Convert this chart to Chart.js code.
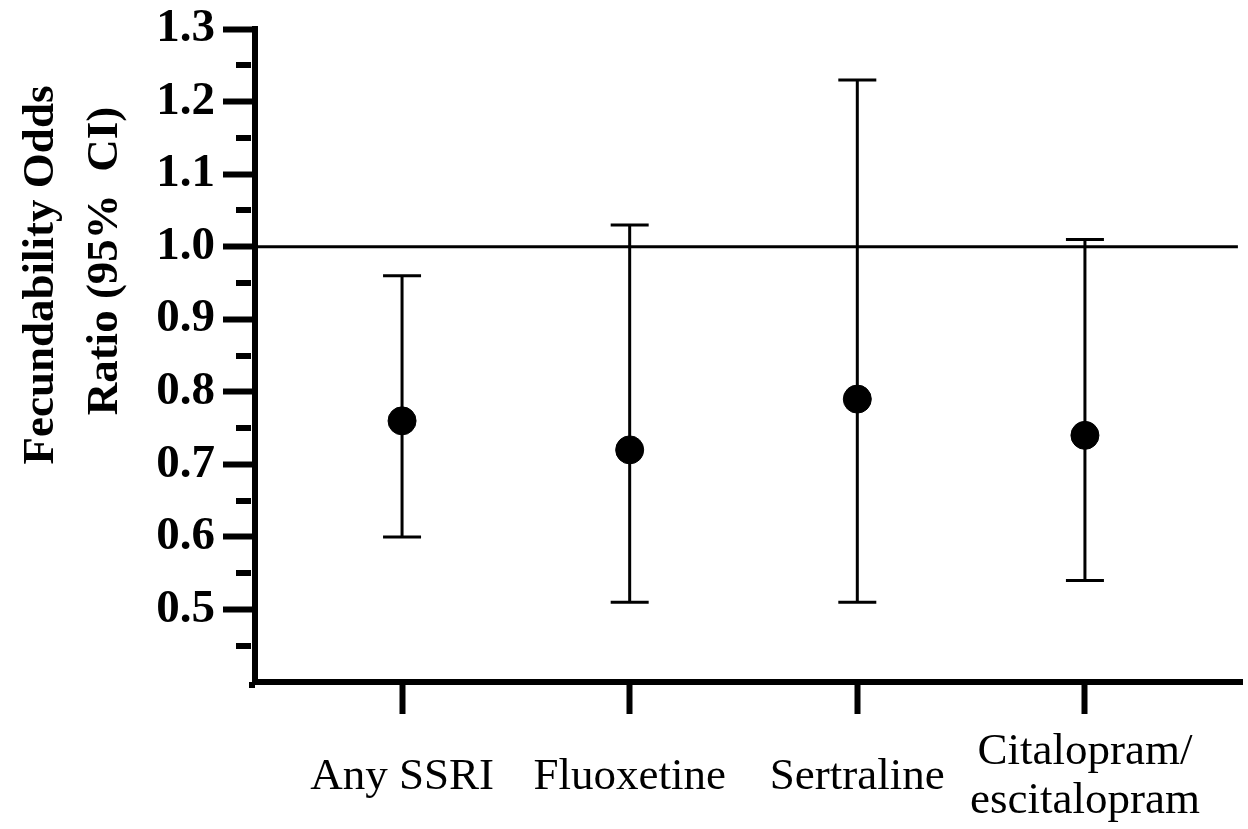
<!DOCTYPE html>
<html>
<head>
<meta charset="utf-8">
<script src="https://cdn.jsdelivr.net/npm/chart.js@4/dist/chart.umd.min.js"></script>
<style>
  html, body { margin: 0; padding: 0; background: #fff; }
</style>
</head>
<body>
<canvas id="forestChart" width="1248" height="829"></canvas>
<script>
// Fecundability odds ratios with 95% CI, one point per SSRI group.
const categories = ['Any SSRI', 'Fluoxetine', 'Sertraline', ['Citalopram/', 'escitalopram']];
const categoryPositions = [1, 2, 3, 4];
const oddsRatios = [0.76, 0.72, 0.79, 0.74];
const ciLower = [0.60, 0.51, 0.51, 0.54];
const ciUpper = [0.96, 1.03, 1.23, 1.01];
const yTicks = [0.5, 0.6, 0.7, 0.8, 0.9, 1.0, 1.1, 1.2, 1.3];
const yMinorTicks = [0.45, 0.55, 0.65, 0.75, 0.85, 0.95, 1.05, 1.15, 1.25];
const referenceValue = 1.0;
const yTitleLines = ['Fecundability Odds', 'Ratio (95%  CI)'];

const X_MIN = 0.354;
const X_MAX = 4.69;
const SERIF = "'Liberation Serif', 'Times New Roman', serif";

// error bars drawn under the points, through the chart scales
const errorBars = {
  id: 'errorBars',
  beforeDatasetsDraw(chart) {
    const { ctx, scales: { x, y } } = chart;
    ctx.save();
    ctx.strokeStyle = '#000';
    ctx.lineWidth = 3;
    categoryPositions.forEach((pos, i) => {
      const px = x.getPixelForValue(pos);
      const top = y.getPixelForValue(ciUpper[i]);
      const bottom = y.getPixelForValue(ciLower[i]);
      ctx.beginPath();
      ctx.moveTo(px, top);
      ctx.lineTo(px, bottom);
      ctx.moveTo(px - 19, top);
      ctx.lineTo(px + 19, top);
      ctx.moveTo(px - 19, bottom);
      ctx.lineTo(px + 19, bottom);
      ctx.stroke();
    });
    ctx.restore();
  },
};

// short ticks halfway between the labelled ones
const minorTicks = {
  id: 'minorTicks',
  afterDraw(chart) {
    const { ctx, scales: { y } } = chart;
    const edge = y.right;
    ctx.save();
    ctx.strokeStyle = '#000';
    ctx.lineWidth = 6;
    yMinorTicks.forEach((v) => {
      const py = Math.round(y.getPixelForValue(v));
      ctx.beginPath();
      ctx.moveTo(edge - 19, py);
      ctx.lineTo(edge - 4, py);
      ctx.stroke();
    });
    // close the corner where the two axis lines meet
    ctx.fillStyle = '#000';
    ctx.fillRect(edge - 6, chart.chartArea.bottom, 6, 6);
    ctx.restore();
  },
};

// two-line rotated y title, placed like the original
const yTitle = {
  id: 'yTitle',
  afterDraw(chart) {
    const { ctx } = chart;
    const spots = [[53, 275], [117, 261]];
    ctx.save();
    ctx.fillStyle = '#000';
    ctx.font = `bold 45px ${SERIF}`;
    ctx.textAlign = 'center';
    ctx.textBaseline = 'alphabetic';
    yTitleLines.forEach((line, i) => {
      ctx.save();
      ctx.translate(spots[i][0], spots[i][1]);
      ctx.rotate(-Math.PI / 2);
      ctx.fillText(line, 0, 0);
      ctx.restore();
    });
    ctx.restore();
  },
};

const ctx = document.getElementById('forestChart').getContext('2d');
new Chart(ctx, {
  type: 'scatter',
  data: {
    datasets: [
      {
        label: 'Reference',
        type: 'line',
        data: [{ x: X_MIN, y: referenceValue }, { x: X_MAX - 0.018, y: referenceValue }],
        borderColor: '#000',
        borderWidth: 3,
        pointRadius: 0,
      },
      {
        label: 'Odds ratio',
        data: categoryPositions.map((pos, i) => ({ x: pos, y: oddsRatios[i] })),
        backgroundColor: '#000',
        borderColor: '#000',
        pointRadius: 14,
        pointHoverRadius: 14,
      },
    ],
  },
  options: {
    responsive: false,
    devicePixelRatio: 1,
    animation: false,
    layout: { autoPadding: false, padding: { top: 0, right: 6, bottom: 0, left: 0 } },
    plugins: {
      legend: { display: false },
      tooltip: { enabled: false },
    },
    scales: {
      x: {
        type: 'linear',
        min: X_MIN,
        max: X_MAX,
        afterBuildTicks: (scale) => {
          scale.ticks = categoryPositions.map((v) => ({ value: v }));
        },
        afterFit: (scale) => {
          scale.height = 147;
        },
        ticks: {
          callback: (value) => categories[categoryPositions.indexOf(value)],
          color: '#000',
          font: { family: SERIF, size: 45, lineHeight: 1.1 },
          crossAlign: 'center',
          maxRotation: 0,
          autoSkip: false,
          padding: 38,
        },
        grid: {
          drawOnChartArea: false,
          tickLength: 32,
          tickWidth: 6,
          tickColor: '#000',
        },
        border: { color: '#000', width: 6 },
      },
      y: {
        min: 0.4,
        max: 1.3,
        afterBuildTicks: (scale) => {
          scale.ticks = yTicks.map((v) => ({ value: v }));
        },
        afterFit: (scale) => {
          scale.width = 255;
        },
        ticks: {
          callback: (value) => value.toFixed(1),
          color: '#000',
          font: { family: SERIF, size: 47, weight: 'bold', lineHeight: 0.9 },
          padding: 8,
        },
        grid: {
          drawOnChartArea: false,
          tickLength: 32,
          tickWidth: 6,
          tickColor: '#000',
        },
        border: { color: '#000', width: 6 },
      },
    },
  },
  plugins: [errorBars, minorTicks, yTitle],
});
</script>
</body>
</html>
